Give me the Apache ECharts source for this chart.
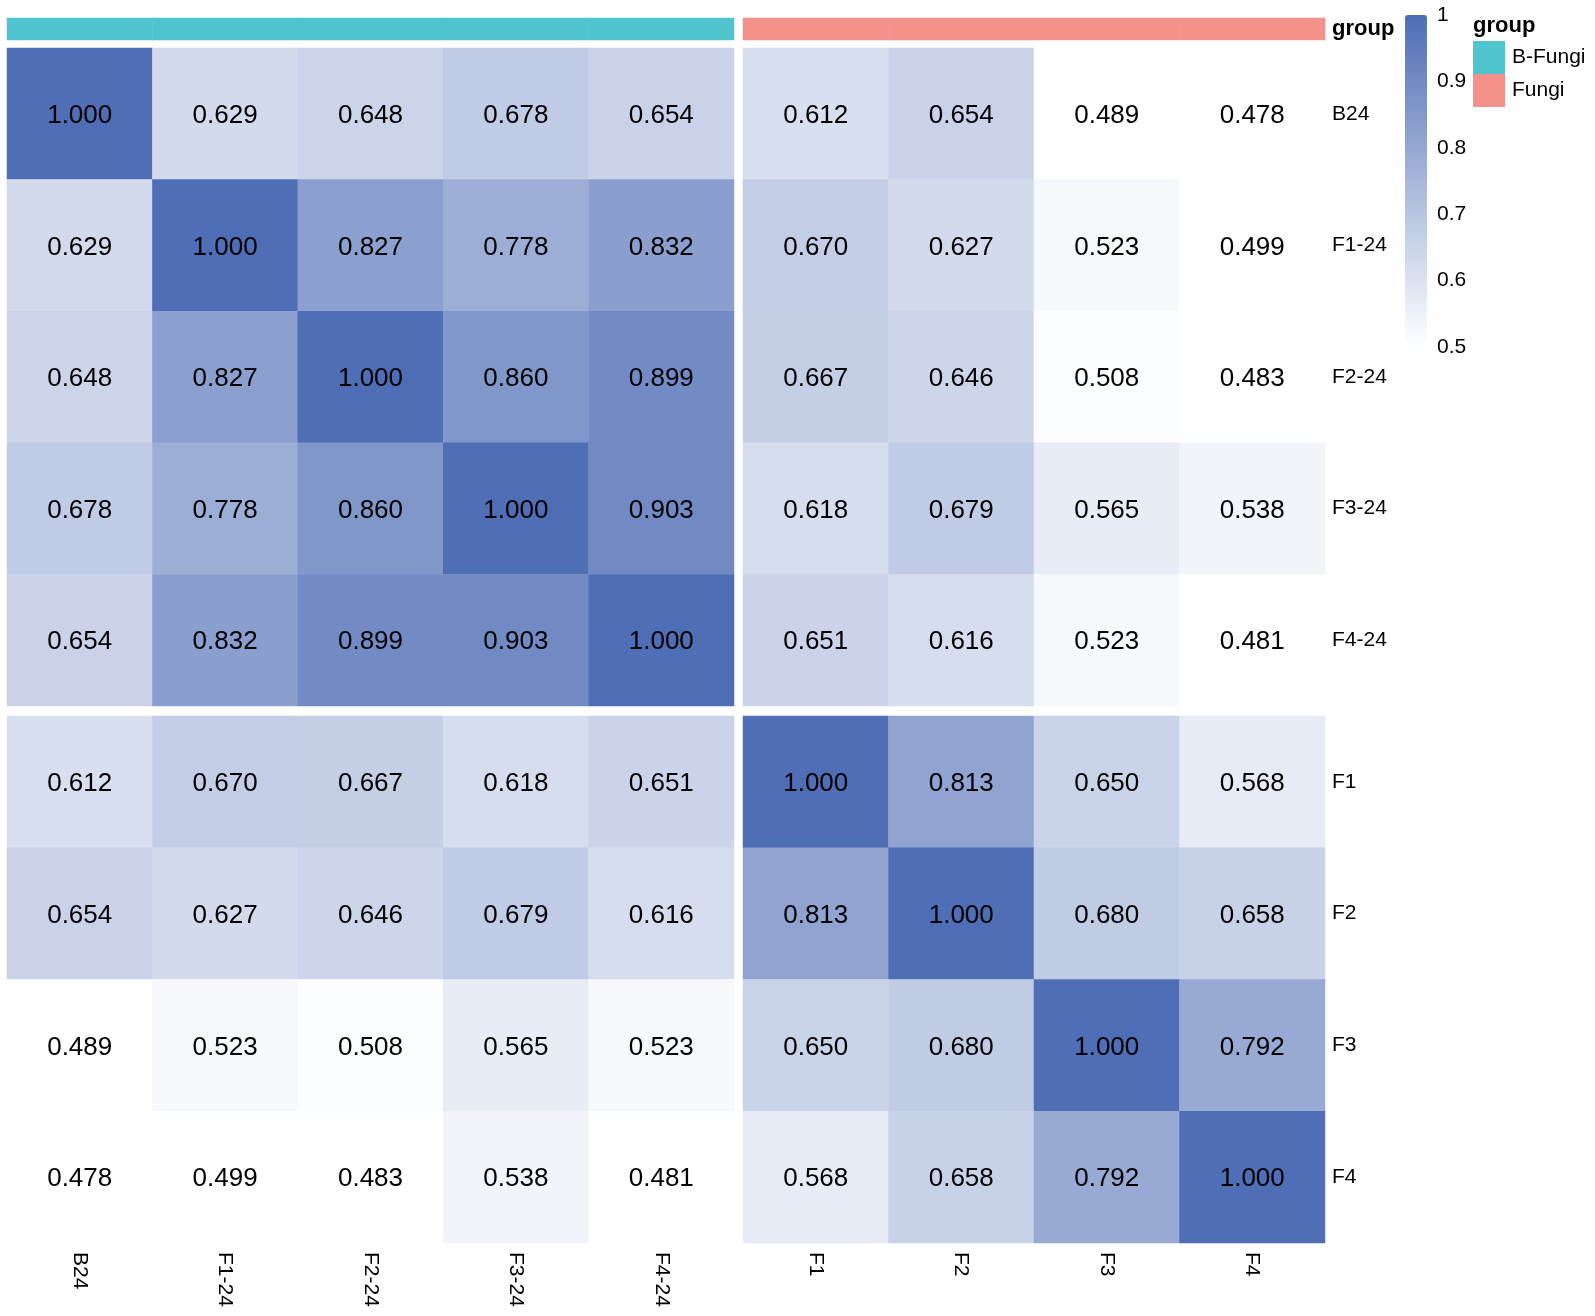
<!DOCTYPE html>
<html lang="en">
<head>
    <meta charset="UTF-8">
    <title>相关性热图</title>
    <script src="https://cdn.jsdelivr.net/npm/echarts@6/dist/echarts.min.js"></script>
    <style>
        body { margin: 0; background: #fff; }
    </style>
</head>
<body>
<div id="main" style="width: 1595px;height: 1316px;"></div>

<script type="text/javascript">
    // sample names (columns and rows use the same order)
    var leftNames = ['B24', 'F1-24', 'F2-24', 'F3-24', 'F4-24'];
    var rightNames = ['F1', 'F2', 'F3', 'F4'];
    var names = leftNames.concat(rightNames);

    // correlation matrix, one row per sample
    var rowB24  = [1.000, 0.629, 0.648, 0.678, 0.654, 0.612, 0.654, 0.489, 0.478];
    var rowF124 = [0.629, 1.000, 0.827, 0.778, 0.832, 0.670, 0.627, 0.523, 0.499];
    var rowF224 = [0.648, 0.827, 1.000, 0.860, 0.899, 0.667, 0.646, 0.508, 0.483];
    var rowF324 = [0.678, 0.778, 0.860, 1.000, 0.903, 0.618, 0.679, 0.565, 0.538];
    var rowF424 = [0.654, 0.832, 0.899, 0.903, 1.000, 0.651, 0.616, 0.523, 0.481];
    var rowF1   = [0.612, 0.670, 0.667, 0.618, 0.651, 1.000, 0.813, 0.650, 0.568];
    var rowF2   = [0.654, 0.627, 0.646, 0.679, 0.616, 0.813, 1.000, 0.680, 0.658];
    var rowF3   = [0.489, 0.523, 0.508, 0.565, 0.523, 0.650, 0.680, 1.000, 0.792];
    var rowF4   = [0.478, 0.499, 0.483, 0.538, 0.481, 0.568, 0.658, 0.792, 1.000];
    var matrix = [rowB24, rowF124, rowF224, rowF324, rowF424, rowF1, rowF2, rowF3, rowF4];

    // group of each column
    var groupNames = ['B-Fungi', 'Fungi'];
    var groupOf = [0, 0, 0, 0, 0, 1, 1, 1, 1];

    // colour bar ticks
    var scaleMin = 0.5, scaleMax = 1, scaleStep = 0.1;

    var font = "'Liberation Sans', Arial, sans-serif";

    // build heatmap data for a block of rows/cols
    function block(rows, cols) {
        var out = [];
        rows.forEach(function (r) {
            cols.forEach(function (c) {
                out.push([c, r, matrix[names.indexOf(r)][names.indexOf(c)]]);
            });
        });
        return out;
    }

    function annot(cols) {
        return cols.map(function (c) {
            return [c, 'group', groupOf[names.indexOf(c)]];
        });
    }

    var L = 7, LW = 727, R = 743, RW = 582;
    var T = 48, TH = 658, B = 716, BH = 527;

    var grids = [
        {left: L, top: T, width: LW, height: TH},
        {left: R, top: T, width: RW, height: TH},
        {left: L, top: B, width: LW, height: BH},
        {left: R, top: B, width: RW, height: BH},
        {left: L, top: 18, width: LW, height: 22},
        {left: R, top: 18, width: RW, height: 22},
        {left: 1405, top: 15, width: 22, height: 332}
    ];

    function catX(idx, data, showLabel) {
        return {
            type: 'category', gridIndex: idx, data: data, position: 'bottom',
            axisLine: {show: false}, axisTick: {show: false}, splitLine: {show: false},
            axisLabel: {show: showLabel, rotate: -90, margin: 9, fontSize: 21, color: '#000', fontFamily: font}
        };
    }

    function catY(idx, data, showLabel, bold) {
        return {
            type: 'category', gridIndex: idx, data: data, inverse: true, position: 'right',
            axisLine: {show: false}, axisTick: {show: false}, splitLine: {show: false},
            axisLabel: {
                show: showLabel, margin: 7, fontSize: bold ? 22 : 21,
                fontWeight: bold ? 'bold' : 'normal', color: '#000', fontFamily: font
            }
        };
    }

    var cellLabel = {
        show: true,
        formatter: function (p) { return p.value[2].toFixed(3); },
        fontSize: 26,
        color: '#000',
        fontFamily: font,
        offset: [0, 2]
    };

    function heat(idx, data) {
        return {
            type: 'heatmap', xAxisIndex: idx, yAxisIndex: idx, data: data,
            label: cellLabel, emphasis: {disabled: true}
        };
    }

    var myChart = echarts.init(document.getElementById('main'));

    var option = {
        backgroundColor: '#fff',
        animation: false,
        textStyle: {fontFamily: font},
        title: {
            text: 'group', left: 1473, top: 15, padding: 0,
            textStyle: {fontSize: 22, fontWeight: 'bold', color: '#000', fontFamily: font}
        },
        grid: grids,
        xAxis: [
            catX(0, leftNames, false),
            catX(1, rightNames, false),
            catX(2, leftNames, true),
            catX(3, rightNames, true),
            catX(4, leftNames, false),
            catX(5, rightNames, false),
            {type: 'value', gridIndex: 6, show: false}
        ],
        yAxis: [
            catY(0, leftNames, false),
            catY(1, leftNames, true),
            catY(2, rightNames, false),
            catY(3, rightNames, true),
            catY(4, ['group'], false),
            catY(5, ['group'], true, true),
            {
                type: 'value', gridIndex: 6, position: 'right',
                min: scaleMin, max: scaleMax, interval: scaleStep,
                axisLine: {show: false}, axisTick: {show: false}, splitLine: {show: false},
                axisLabel: {
                    margin: 10, fontSize: 21, color: '#000', fontFamily: font,
                    formatter: function (v) { return v === 1 ? '1' : v.toFixed(1); }
                }
            }
        ],
        visualMap: [
            {
                type: 'continuous',
                seriesIndex: [0, 1, 2, 3],
                min: scaleMin, max: scaleMax,
                left: 1405, top: 15, padding: 0,
                itemWidth: 22, itemHeight: 332,
                calculable: false,
                inRange: {color: ['#FFFFFF', '#4F6EB5']},
                outOfRange: {color: '#FFFFFF'}
            },
            {
                type: 'piecewise',
                seriesIndex: [4, 5],
                orient: 'vertical',
                inverse: true,
                align: 'left',
                left: 1473, top: 41, padding: 0,
                itemWidth: 32, itemHeight: 33, itemGap: 0,
                itemSymbol: 'rect', textGap: 7,
                selectedMode: false,
                textStyle: {fontSize: 21, color: '#000', fontFamily: font},
                pieces: [
                    {value: 0, label: groupNames[0], color: '#50C4CE'},
                    {value: 1, label: groupNames[1], color: '#F4918A'}
                ]
            }
        ],
        series: [
            heat(0, block(leftNames, leftNames)),
            heat(1, block(leftNames, rightNames)),
            heat(2, block(rightNames, leftNames)),
            heat(3, block(rightNames, rightNames)),
            {type: 'heatmap', xAxisIndex: 4, yAxisIndex: 4, data: annot(leftNames), emphasis: {disabled: true}},
            {type: 'heatmap', xAxisIndex: 5, yAxisIndex: 5, data: annot(rightNames), emphasis: {disabled: true}},
            {type: 'scatter', xAxisIndex: 6, yAxisIndex: 6, data: []}
        ]
    };

    myChart.setOption(option);
</script>
</body>
</html>
